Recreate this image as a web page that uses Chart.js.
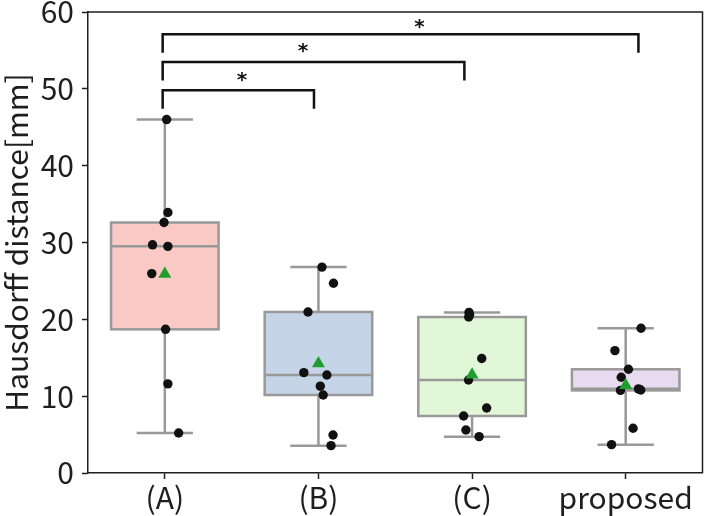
<!DOCTYPE html>
<html>
<head>
<meta charset="utf-8">
<script src="https://cdn.jsdelivr.net/npm/chart.js@4"></script>
<style>
  html, body { margin: 0; padding: 0; background: #fff; }
  #wrap { width: 710px; height: 516px; }
</style>
</head>
<body>
<div id="wrap"><canvas id="chart"></canvas></div>
<script>
// Hausdorff distance per method - box plot with strip points and significance brackets

const categories = ['(A)', '(B)', '(C)', 'proposed'];

// per-case values [mm]
const valuesA = [46.0, 33.9, 32.6, 29.7, 29.5, 25.95, 18.7, 11.6, 5.2];
const valuesB = [26.8, 24.7, 20.96, 13.06, 12.76, 11.3, 10.15, 4.95, 3.56];
const valuesC = [20.9, 20.6, 20.3, 14.9, 12.1, 8.46, 7.42, 5.6, 4.73];
const valuesProposed = [18.84, 15.93, 13.5, 12.46, 10.75, 10.95, 10.8, 5.82, 3.69];

// strip plot jitter (fraction of a category step)
const jitterA = [0.012, 0.02, -0.005, -0.08, 0.02, -0.085, 0.005, 0.02, 0.09];
const jitterB = [0.023, 0.098, -0.068, -0.095, 0.055, 0.012, 0.031, 0.095, 0.082];
const jitterC = [-0.02, -0.016, -0.022, 0.063, -0.023, 0.095, -0.055, -0.04, 0.046];
const jitterProposed = [0.1, -0.07, 0.018, -0.029, -0.034, 0.083, 0.098, 0.048, -0.092];

const yTicks = [0, 10, 20, 30, 40, 50, 60];

// significance brackets: from/to on the category axis, level in mm
const bracketFrom = [-0.014, -0.014, -0.014];
const bracketTo = [0.971, 1.95, 3.083];
const bracketLevel = [49.8, 53.5, 57.1];
const starX = [0.502, 0.9, 1.657];
const starY = [51.5, 55.3, 58.4];
const bracketLabel = ['*', '*', '*'];

const groups = [valuesA, valuesB, valuesC, valuesProposed];
const jitters = [jitterA, jitterB, jitterC, jitterProposed];
const boxColors = ['#f9c9c5', '#c5d5e7', '#e2f7d7', '#e8daef'];

const FONT = '"Noto Sans CJK JP", "Noto Sans", sans-serif';
const INK = '#1e1e1e';

function quantile(sorted, p) {
    const pos = (sorted.length - 1) * p;
    const lo = Math.floor(pos), hi = Math.ceil(pos);
    return sorted[lo] + (sorted[hi] - sorted[lo]) * (pos - lo);
}

function boxStats(vals) {
    const s = vals.slice().sort((a, b) => a - b);
    return {
        min: s[0],
        q1: quantile(s, 0.25),
        med: quantile(s, 0.5),
        q3: quantile(s, 0.75),
        max: s[s.length - 1]
    };
}

function mean(vals) {
    return vals.reduce((a, b) => a + b, 0) / vals.length;
}

// build scatter data
const pointData = [];
groups.forEach((vals, i) => {
    vals.forEach((v, k) => pointData.push({x: i + jitters[i][k], y: v}));
});
const meanData = groups.map((vals, i) => ({x: i, y: mean(vals)}));

// boxes, whiskers and the outer frame
const boxPlugin = {
    id: 'boxes',
    beforeDatasetsDraw(chart) {
        const {ctx, chartArea, scales: {x, y}} = chart;
        ctx.save();
        groups.forEach((vals, i) => {
            const s = boxStats(vals);
            const xc = x.getPixelForValue(i);
            const xl = x.getPixelForValue(i - 0.35);
            const xr = x.getPixelForValue(i + 0.35);
            const cl = x.getPixelForValue(i - 0.183);
            const cr = x.getPixelForValue(i + 0.183);
            const yq1 = y.getPixelForValue(s.q1);
            const yq3 = y.getPixelForValue(s.q3);

            ctx.strokeStyle = '#999999';
            ctx.lineWidth = 2.5;

            // whiskers + caps
            ctx.beginPath();
            ctx.moveTo(xc, yq3); ctx.lineTo(xc, y.getPixelForValue(s.max));
            ctx.moveTo(xc, yq1); ctx.lineTo(xc, y.getPixelForValue(s.min));
            ctx.moveTo(cl, y.getPixelForValue(s.max)); ctx.lineTo(cr, y.getPixelForValue(s.max));
            ctx.moveTo(cl, y.getPixelForValue(s.min)); ctx.lineTo(cr, y.getPixelForValue(s.min));
            ctx.stroke();

            // box
            ctx.fillStyle = boxColors[i];
            ctx.fillRect(xl, yq3, xr - xl, yq1 - yq3);
            ctx.strokeRect(xl, yq3, xr - xl, yq1 - yq3);

            // median
            const ym = y.getPixelForValue(s.med);
            ctx.beginPath();
            ctx.moveTo(xl, ym); ctx.lineTo(xr, ym);
            ctx.stroke();
        });

        // top and right spines
        ctx.strokeStyle = INK;
        ctx.lineWidth = 1.5;
        ctx.beginPath();
        ctx.moveTo(chartArea.left, chartArea.top);
        ctx.lineTo(chartArea.right, chartArea.top);
        ctx.lineTo(chartArea.right, chartArea.bottom);
        ctx.stroke();
        ctx.restore();
    }
};

// significance brackets with asterisks
const bracketPlugin = {
    id: 'brackets',
    afterDatasetsDraw(chart) {
        const {ctx, scales: {x, y}} = chart;
        ctx.save();
        ctx.strokeStyle = '#111';
        ctx.lineWidth = 2.5;
        ctx.lineJoin = 'miter';
        bracketLevel.forEach((lvl, i) => {
            const x0 = x.getPixelForValue(bracketFrom[i]);
            const x1 = x.getPixelForValue(bracketTo[i]);
            const yTop = y.getPixelForValue(lvl);
            const yLeg = y.getPixelForValue(lvl - 2.4);
            ctx.beginPath();
            ctx.moveTo(x0, yLeg);
            ctx.lineTo(x0, yTop);
            ctx.lineTo(x1, yTop);
            ctx.lineTo(x1, yLeg);
            ctx.stroke();

            ctx.fillStyle = '#111';
            ctx.font = 'bold 20px "DejaVu Sans"';
            ctx.textAlign = 'center';
            ctx.textBaseline = 'alphabetic';
            const m = ctx.measureText(bracketLabel[i]);
            const yc = y.getPixelForValue(starY[i]);
            const yDraw = yc + (m.actualBoundingBoxAscent - m.actualBoundingBoxDescent) / 2;
            ctx.fillText(bracketLabel[i], x.getPixelForValue(starX[i]), yDraw);
        });
        ctx.restore();
    }
};

const chart = new Chart(document.getElementById('chart'), {
    type: 'scatter',
    data: {
        datasets: [
            {
                label: 'mean',
                data: meanData,
                pointStyle: 'triangle',
                pointRadius: 7.5,
                pointHoverRadius: 7.5,
                backgroundColor: '#1f9e2f',
                borderColor: '#1f9e2f',
                borderWidth: 0,
                order: 0
            },
            {
                label: 'cases',
                data: pointData,
                pointRadius: 4.7,
                pointHoverRadius: 4.7,
                backgroundColor: '#111',
                borderColor: '#111',
                borderWidth: 0,
                order: 1
            }
        ]
    },
    options: {
        responsive: true,
        maintainAspectRatio: false,
        animation: false,
        layout: {
            padding: {top: 12, right: 2, left: 0, bottom: 0}
        },
        plugins: {
            legend: {display: false},
            tooltip: {enabled: false}
        },
        scales: {
            x: {
                type: 'linear',
                min: -0.5,
                max: 3.5,
                afterBuildTicks: (scale) => {
                    scale.ticks = categories.map((_, i) => ({value: i}));
                },
                afterFit: (scale) => {
                    scale.height = 43;
                    scale.paddingLeft = 0;
                    scale.paddingRight = 0;
                },
                grid: {
                    drawOnChartArea: false,
                    drawTicks: true,
                    tickLength: 6,
                    tickWidth: 1.5,
                    tickColor: INK
                },
                border: {color: INK, width: 1.5},
                ticks: {
                    autoSkip: false,
                    maxRotation: 0,
                    padding: 1,
                    color: INK,
                    font: {family: FONT, size: 30},
                    callback: (v) => categories[v]
                }
            },
            y: {
                min: 0,
                max: 60,
                afterBuildTicks: (scale) => {
                    scale.ticks = yTicks.map(v => ({value: v}));
                },
                afterFit: (scale) => {
                    scale.width = 88;
                    scale.paddingTop = 0;
                    scale.paddingBottom = 0;
                },
                grid: {
                    drawOnChartArea: false,
                    drawTicks: true,
                    tickLength: 6,
                    tickWidth: 1.5,
                    tickColor: INK
                },
                border: {color: INK, width: 1.5},
                ticks: {
                    padding: 8,
                    color: INK,
                    font: {family: FONT, size: 30}
                },
                title: {
                    display: true,
                    text: 'Hausdorff distance[mm]',
                    color: INK,
                    padding: 0,
                    font: {family: FONT, size: 30, lineHeight: 1.1}
                }
            }
        }
    },
    plugins: [boxPlugin, bracketPlugin]
});
</script>
</body>
</html>
